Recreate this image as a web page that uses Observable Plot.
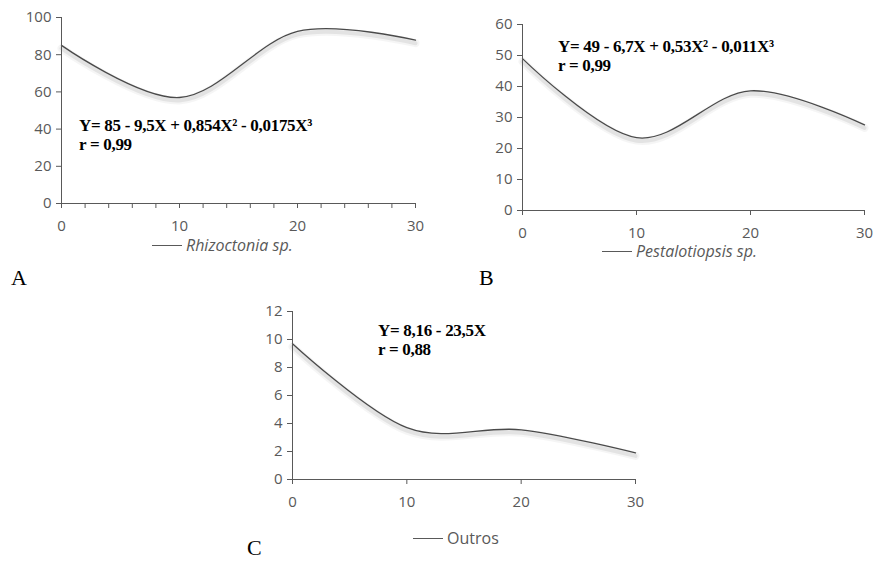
<!DOCTYPE html>
<html><head><meta charset="utf-8">
<script src="https://cdn.jsdelivr.net/npm/d3@7"></script>
<script src="https://cdn.jsdelivr.net/npm/@observablehq/plot@0.6"></script>
<style>
body{margin:0;background:#fff;}
#wrap{position:relative;width:875px;height:561px;overflow:hidden;background:#fff;}
.panel{position:absolute;}
.eq{position:absolute;font-family:"Liberation Serif","Times New Roman",serif;font-weight:bold;font-size:17px;line-height:19px;color:#000;white-space:nowrap;letter-spacing:-0.3px}
.leg{position:absolute;font-family:"Open Sans",sans-serif;font-size:16px;line-height:20px;color:#595959;white-space:nowrap;display:flex;align-items:center}
.leg .sw{display:inline-block;width:30px;height:0;border-top:1.3px solid #595959;margin-right:4px}
.lab{position:absolute;font-family:"Liberation Serif","Times New Roman",serif;font-size:22px;line-height:16px;color:#000}
</style></head><body><div id="wrap"></div>
<script>
// ---- data ----
const days = [0, 10, 20, 30];
const rhizoctonia = [85, 57, 92.5, 87.8];
const pestalotiopsis = [49, 23.5, 38.6, 27.6];
const outros = [9.7, 3.7, 3.55, 1.9];
const xTickLabels = [0, 10, 20, 30];
const xMinorTicksA = [0, 2, 4, 6, 8, 10, 12, 14, 16, 18, 20, 22, 24, 26, 28, 30];
const yTicksA = [0, 20, 40, 60, 80, 100];
const yTicksB = [0, 10, 20, 30, 40, 50, 60];
const yTicksC = [0, 2, 4, 6, 8, 10, 12];
const seriesNames = ["Rhizoctonia sp.", "Pestalotiopsis sp.", "Outros"];
const equations = [
  ["Y= 85 - 9,5X + 0,854X² - 0,0175X³", "r = 0,99"],
  ["Y= 49 - 6,7X + 0,53X² - 0,011X³", "r = 0,99"],
  ["Y= 8,16 - 23,5X", "r = 0,88"]
];
const panelLetters = ["A", "B", "C"];

const wrap = document.getElementById("wrap");

function makePanel(cfg) {
  const data = days.map((d, i) => ({x: d, y: cfg.values[i]}));
  const lineOpts = {x: "x", y: "y", curve: "cardinal"};
  const marks = [
    Plot.line(data, {...lineOpts, stroke: "#000", strokeOpacity: 0.04, strokeWidth: 8, dy: 3}),
    Plot.line(data, {...lineOpts, stroke: "#000", strokeOpacity: 0.07, strokeWidth: 4, dy: 3}),
    Plot.line(data, {...lineOpts, stroke: "#4a4a4a", strokeWidth: 1.3}),
    Plot.ruleX([0], {stroke: "#595959"}),
    Plot.ruleY([0], {stroke: "#595959"}),
    Plot.axisY(cfg.yTicks, {tickSize: 5, tickPadding: 5, label: null}),
  ];
  if (cfg.minor) {
    marks.push(Plot.axisX(cfg.minor, {tickSize: 5, tickFormat: () => "", label: null}));
    marks.push(Plot.axisX(xTickLabels, {tickSize: 0, tickPadding: 17, label: null}));
  } else {
    marks.push(Plot.axisX(xTickLabels, {tickSize: 5, tickPadding: 12, label: null}));
  }
  const svg = Plot.plot({
    width: cfg.width, height: cfg.height,
    marginLeft: cfg.mL, marginTop: cfg.mT, marginBottom: cfg.mB, marginRight: cfg.mR,
    x: {domain: [0, 30], label: null},
    y: {domain: [0, cfg.yMax], label: null},
    style: {fontFamily: "'Open Sans', sans-serif", fontSize: "15px", color: "#595959", background: "transparent", overflow: "visible"},
    marks
  });
  svg.classList.add("panel");
  svg.style.left = cfg.left + "px";
  svg.style.top = cfg.top + "px";
  wrap.appendChild(svg);
}

makePanel({values: rhizoctonia, yTicks: yTicksA, yMax: 100, minor: xMinorTicksA,
  left: 0, top: 0, width: 440, height: 238, mL: 61, mT: 17, mB: 35, mR: 25});
makePanel({values: pestalotiopsis, yTicks: yTicksB, yMax: 60,
  left: 440, top: 0, width: 435, height: 245, mL: 82, mT: 24, mB: 35, mR: 11});
makePanel({values: outros, yTicks: yTicksC, yMax: 12,
  left: 230, top: 290, width: 430, height: 224, mL: 62, mT: 21, mB: 35, mR: 25});

function addDiv(cls, html, left, top) {
  const d = document.createElement("div");
  d.className = cls; d.innerHTML = html;
  d.style.left = left + "px"; d.style.top = top + "px";
  wrap.appendChild(d);
  return d;
}
const eqPos = [[79, 116], [558, 37], [378, 321]];
equations.forEach((e, i) => addDiv("eq", e.join("<br>"), eqPos[i][0], eqPos[i][1]));
const legPos = [[152, 235, true], [602, 241, true], [413, 528, false]];
seriesNames.forEach((n, i) => addDiv("leg", `<span class="sw"></span><span style="font-style:${legPos[i][2] ? "italic" : "normal"}">${n}</span>`, legPos[i][0], legPos[i][1]));
const labPos = [[11, 270], [479, 270], [247, 540]];
panelLetters.forEach((l, i) => addDiv("lab", l, labPos[i][0], labPos[i][1]));
</script>
</body></html>
